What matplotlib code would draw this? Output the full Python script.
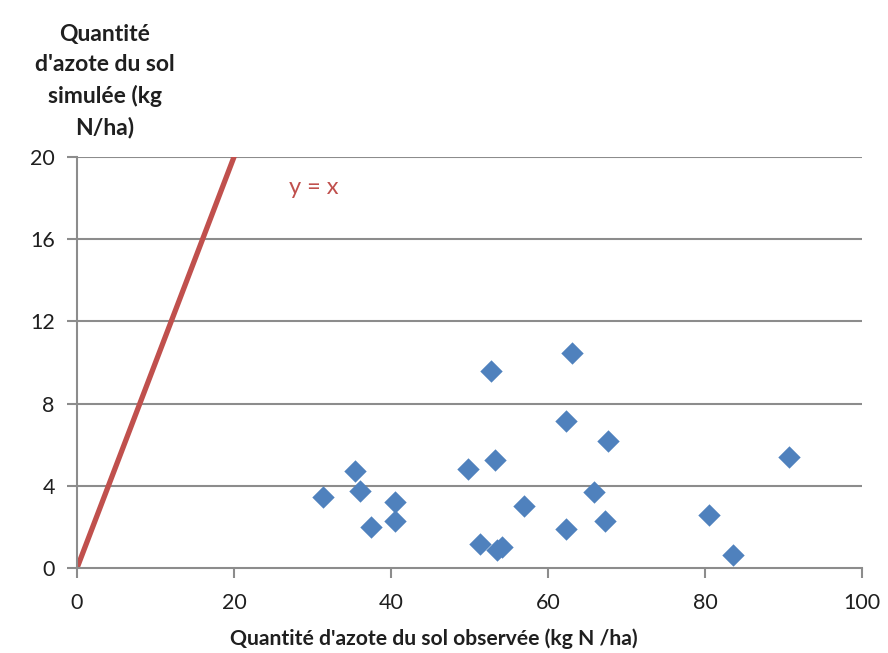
import numpy as np
import matplotlib
matplotlib.use("Agg")
import matplotlib.pyplot as plt

plt.rcParams['font.family'] = ['Lato', 'DejaVu Sans']

# observed vs simulated soil nitrogen (kg N/ha)
observed = [31.4, 35.4, 36.1, 37.5, 40.5, 40.5, 49.8, 51.4, 52.7, 53.2, 53.5,
            54.2, 56.9, 63.1, 62.3, 62.3, 65.8, 67.6, 67.3, 80.5, 83.6, 90.7]
simulated = [3.48, 4.73, 3.76, 2.02, 3.21, 2.30, 4.82, 1.17, 9.57, 5.24, 0.86,
             1.05, 3.00, 10.46, 7.17, 1.91, 3.68, 6.19, 2.30, 2.59, 0.66, 5.40]
line_x = [0, 25]
xticks = [0, 20, 40, 60, 80, 100]
yticks = [0, 4, 8, 12, 16, 20]

grey = '#8c8c8c'
text_col = '#1f1f1f'

fig = plt.figure(figsize=(8.88, 6.53), dpi=100)
ax = fig.add_axes([0.0867, 0.130, 0.884, 0.6296])

# horizontal gridlines
for t in yticks[1:]:
    ax.axhline(t, color=grey, linewidth=1.5, zorder=1)

ax.plot(line_x, line_x, color='#c0504d', linewidth=3.8, solid_capstyle='butt', zorder=2)
ax.scatter(observed, simulated, marker='D', s=130, color='#4f81bd', linewidths=0, zorder=3)
ax.text(27, 18.5, 'y = x', color='#c0504d', fontsize=17, va='center', ha='left')

ax.set_xlim(0, 100)
ax.set_ylim(0, 20)
ax.set_xticks(xticks)
ax.set_yticks(yticks)
ax.tick_params(axis='both', colors=grey, labelcolor=text_col, labelsize=15.5,
               width=1.5, length=7, direction='out')
ax.tick_params(axis='x', pad=11)
ax.tick_params(axis='y', pad=9)

for side in ['top', 'right']:
    ax.spines[side].set_visible(False)
for side in ['left', 'bottom']:
    ax.spines[side].set_color(grey)
    ax.spines[side].set_linewidth(1.5)

fig.text(0.489, 0.025, "Quantité d'azote du sol observée (kg N /ha)", fontsize=15.2,
         fontweight='bold', color=text_col, ha='center', va='center_baseline')
fig.text(0.118, 0.876, "Quantité\nd'azote du sol\nsimulée (kg\nN/ha)", fontsize=16.5,
         fontweight='bold', color=text_col, ha='center', va='center', linespacing=1.55)

fig.savefig('out.png', dpi=100)
